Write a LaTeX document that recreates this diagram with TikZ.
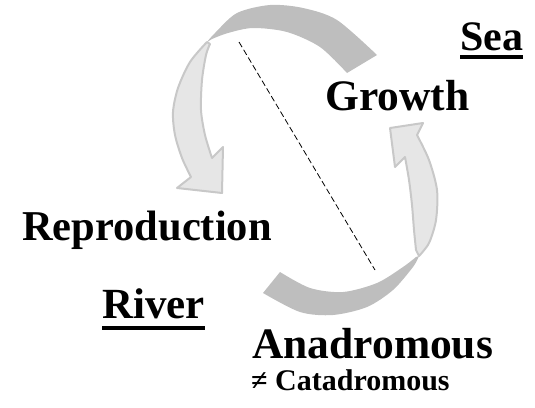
\documentclass[tikz,border=0pt]{standalone}
\usepackage{fontspec}
\setmainfont{Liberation Serif}
\usetikzlibrary{positioning}
\definecolor{bandgray}{RGB}{190,190,190}
\definecolor{facegray}{RGB}{230,230,230}
\definecolor{edgegray}{RGB}{200,200,200}

\begin{document}
\begin{tikzpicture}[x=1pt,y=-1pt,
    band/.style={fill=bandgray,draw=none},
    face/.style={fill=facegray,draw=edgegray,line width=2pt,line join=round},
    lbl/.style={anchor=base west,inner sep=0pt,font=\bfseries\fontsize{42.5}{42.5}\selectfont},
    sublbl/.style={anchor=base west,inner sep=0pt,font=\bfseries\fontsize{30}{30}\selectfont},
    uline/.style={line width=3.5pt},
    split/.style={dash pattern=on 6pt off 3pt,line width=0.8pt}]
      \useasboundingbox (0,0) rectangle (535,407);
      % upper arrow
      \fill[band] plot[smooth] coordinates {(377,55) (337,20) (303,8) (270,5) (237,13) (215,33) (207,42)}
        -- plot[smooth] coordinates {(212,39) (228,33) (253,28) (287,32) (320,47) (347,73)} -- cycle;
      \filldraw[face] plot[smooth] coordinates {(207,42) (190,62) (178,88) (173,112) (175,135) (182,158) (191,177)}
        -- (177,188) -- (222,193) -- (223,147) -- (212,158)
        -- plot[smooth] coordinates {(212,158) (205,135) (201,110) (202,80) (206,55) (210,44)} -- cycle;
      % lower arrow
      \fill[band] plot[smooth] coordinates {(263,293) (300,312) (333,315) (367,307) (393,290) (413,267) (419,256)}
        -- plot[smooth] coordinates {(416,257) (403,267) (377,283) (343,292) (310,288) (280,272)} -- cycle;
      \filldraw[face] plot[smooth] coordinates {(419,256) (429,243) (436,220) (437,190) (429,160) (417,135)}
        -- (423,123) -- (390,128) -- (395,167) -- (405,157)
        -- plot[smooth] coordinates {(405,157) (409,180) (412,205) (414,230) (416,250)} -- cycle;
      % divide
      \coordinate (dtop) at (239,42);
      \coordinate (dbot) at (375,270);
      \draw[split] (dtop) -- (dbot);
      % labels
      \node[lbl,font=\bfseries\fontsize{42}{42}\selectfont] (sea) at (460,50) {Sea};
      \node[lbl,font=\bfseries\fontsize{43.5}{43.5}\selectfont] (growth) at (325,110) {Growth};
      \node[lbl] (repro) at (22,240) {Reproduction};
      \node[lbl,font=\bfseries\fontsize{43}{43}\selectfont] (river) at (102,318) {River};
      \node[lbl,font=\bfseries\fontsize{43.5}{43.5}\selectfont] (anadro) at (252,358) {Anadromous};
      \node[sublbl] (catadro) at (251,390) {≠ Catadromous};
      \draw[uline] ([yshift=-7pt]sea.base west) -- ([yshift=-7pt]sea.base east);
      \draw[uline] ([yshift=-10pt]river.base west) -- ([yshift=-10pt]river.base east);
    \end{tikzpicture}
\end{document}
